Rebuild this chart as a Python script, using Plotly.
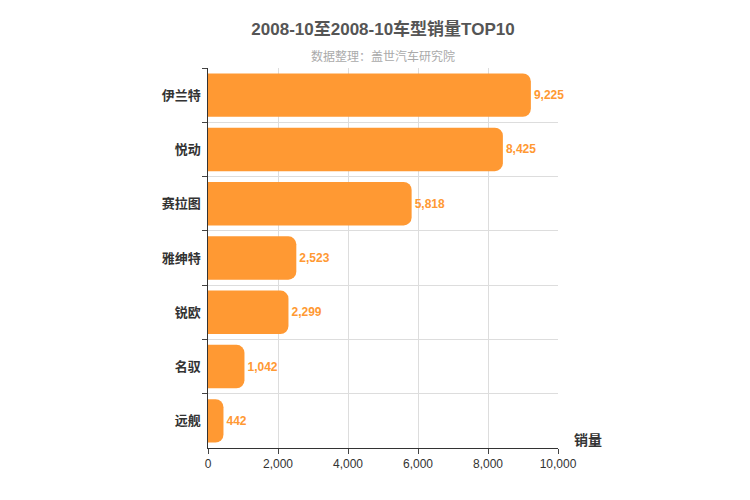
import plotly.graph_objects as go

models = ["伊兰特", "悦动", "赛拉图", "雅绅特", "锐欧", "名驭", "远舰"]
sales = [9225, 8425, 5818, 2523, 2299, 1042, 442]
pos = list(range(len(models)))

fig = go.Figure(go.Bar(
    x=sales, y=pos, orientation="h",
    marker=dict(color="#ff9933", line=dict(width=0)),
    text=[f"<b>{v:,}</b>" for v in sales], textposition="outside",
    textfont=dict(color="#ff9933", size=12),
    width=0.8, cliponaxis=False,
))
fig.update_layout(
    width=750, height=500, template="simple_white",
    barcornerradius=8,
    font=dict(family="Liberation Sans, Noto Sans CJK SC", color="#333"),
    title=dict(text="<b>2008-10至2008-10车型销量TOP10</b>", x=0.5, y=0.97,
               xanchor="center", font=dict(size=17, color="#555")),
    margin=dict(l=200, r=200, t=60, b=60),
    showlegend=False,
    annotations=[
        dict(text="数据整理：盖世汽车研究院", x=0.5, xref="paper", y=1.055, yref="paper",
             showarrow=False, font=dict(size=12, color="#aaa")),
        dict(text="<b>销量</b>", x=1.04, xref="paper", y=-0.005, yref="paper",
             xanchor="left", yanchor="bottom", showarrow=False,
             font=dict(size=14, color="#333")),
    ],
)
fig.update_xaxes(range=[0, 10000], tickformat=",", dtick=2000, showgrid=True,
                 gridcolor="#ddd", ticks="outside", showline=True,
                 linecolor="#333", tickfont=dict(size=12))
fig.update_yaxes(range=[6.5, -0.5], tickvals=pos,
                 ticktext=[f"<b>{m}</b> " for m in models], showgrid=False,
                 ticks="", showline=True, linecolor="#333",
                 tickfont=dict(size=13, color="#333"),
                 minor=dict(tickvals=[p + 0.5 for p in pos[:-1]] + [-0.5],
                            showgrid=True, gridcolor="#ddd", ticks="outside",
                            ticklen=5))
fig.write_html("out.html")
